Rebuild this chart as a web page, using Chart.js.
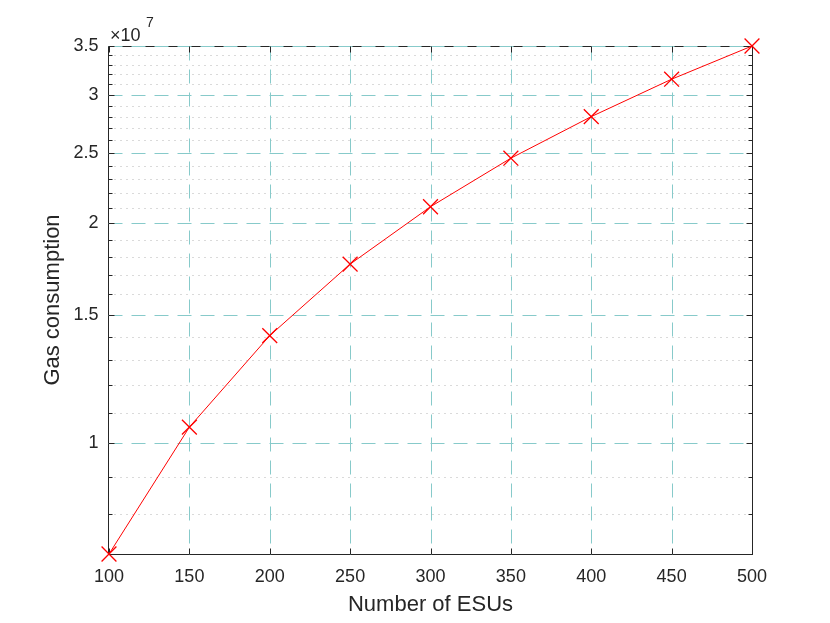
<!DOCTYPE html>
<html>
<head>
<meta charset="utf-8">
<title>Gas consumption</title>
<script src="https://cdn.jsdelivr.net/npm/chart.js@4.4.0/dist/chart.umd.min.js"></script>
<style>
	html, body { margin: 0; padding: 0; background: #fff; }
</style>
</head>
<body>
<canvas id="grafico" width="830" height="623"></canvas>
<script>
	// datos
	var esus = [100, 150, 200, 250, 300, 350, 400, 450, 500];
	var gas = [7.05e6, 1.052e7, 1.404e7, 1.759e7, 2.108e7, 2.457e7, 2.801e7, 3.152e7, 3.5e7];
	var xTicks = [100, 150, 200, 250, 300, 350, 400, 450, 500];
	var yTicks = [1e7, 1.5e7, 2e7, 2.5e7, 3e7, 3.5e7];
	var yMinor = [8e6, 9e6, 1.1e7, 1.2e7, 1.3e7, 1.4e7, 1.6e7, 1.7e7, 1.8e7, 1.9e7,
		2.1e7, 2.2e7, 2.3e7, 2.4e7, 2.6e7, 2.7e7, 2.8e7, 2.9e7, 3.1e7, 3.2e7, 3.3e7, 3.4e7];

	var fuente = '"Liberation Sans", Arial, Helvetica, sans-serif';
	var gris = '#262626';
	var colorGrid = 'rgb(135,202,202)';
	var colorMinor = 'rgb(180,180,180)';

	function px(v) { return Math.round(v) + 0.5; }

	// rejilla estilo matlab + marcas hacia dentro
	var ejesMatlab = {
		id: 'ejesMatlab',
		beforeDatasetsDraw: function(chart) {
			var c = chart.ctx, a = chart.chartArea;
			var sx = chart.scales.x, sy = chart.scales.y;
			var L = px(a.left) - 1, R = px(a.right), T = px(a.top), B = px(a.bottom);
			c.save();
			c.lineWidth = 1;

			// rejilla menor punteada
			c.strokeStyle = colorMinor;
			c.setLineDash([1, 5]);
			yMinor.forEach(function(v) {
				var y = px(sy.getPixelForValue(v));
				c.beginPath(); c.moveTo(L, y); c.lineTo(R, y); c.stroke();
			});

			// caja
			c.setLineDash([]);
			c.strokeStyle = gris;
			c.strokeRect(L, T, R - L, B - T);

			// rejilla mayor discontinua
			c.strokeStyle = colorGrid;
			c.setLineDash([14, 9]);
			yTicks.forEach(function(v) {
				var y = px(sy.getPixelForValue(v));
				c.beginPath(); c.moveTo(L, y); c.lineTo(R, y); c.stroke();
			});
			xTicks.forEach(function(v) {
				if (v == xTicks[0] || v == xTicks[xTicks.length - 1]) return;
				var x = px(sx.getPixelForValue(v));
				c.beginPath(); c.moveTo(x, T); c.lineTo(x, B); c.stroke();
			});

			// marcas
			c.setLineDash([]);
			c.strokeStyle = gris;
			xTicks.forEach(function(v) {
				var x = px(sx.getPixelForValue(v));
				c.beginPath();
				c.moveTo(x, B); c.lineTo(x, B - 6);
				c.moveTo(x, T); c.lineTo(x, T + 6);
				c.stroke();
			});
			yTicks.forEach(function(v) {
				var y = px(sy.getPixelForValue(v));
				c.beginPath();
				c.moveTo(L, y); c.lineTo(L + 6, y);
				c.moveTo(R, y); c.lineTo(R - 6, y);
				c.stroke();
			});
			yMinor.forEach(function(v) {
				var y = px(sy.getPixelForValue(v));
				c.beginPath();
				c.moveTo(L, y); c.lineTo(L + 4, y);
				c.moveTo(R, y); c.lineTo(R - 4, y);
				c.stroke();
			});
			c.restore();
		},
		afterDraw: function(chart) {
			var c = chart.ctx;
			c.save();
			c.fillStyle = gris;
			c.textBaseline = 'alphabetic';
			c.textAlign = 'left';
			c.font = '18px ' + fuente;
			c.fillText('\u00d710', 110, 41);
			c.font = '14px ' + fuente;
			c.fillText('7', 146, 27);
			c.restore();
		}
	};

	var puntos = esus.map(function(x, i) { return {x: x, y: gas[i]}; });

	var grafico = new Chart(document.getElementById('grafico'), {
		type: 'line',
		data: {
			datasets: [{
				data: puntos,
				borderColor: '#ff0000',
				borderWidth: 1,
				pointStyle: 'crossRot',
				pointRadius: 10.5,
				pointBorderColor: '#ff0000',
				pointBorderWidth: 1.3,
				pointBackgroundColor: '#ff0000',
				fill: false,
				tension: 0,
				clip: false
			}]
		},
		options: {
			responsive: false,
			animation: false,
			layout: { padding: { left: 0, top: 46, right: 78, bottom: 0 } },
			plugins: { legend: { display: false }, tooltip: { enabled: false } },
			scales: {
				x: {
					type: 'linear',
					min: esus[0],
					max: esus[esus.length - 1],
					afterBuildTicks: function(s) { s.ticks = xTicks.map(function(v) { return {value: v}; }); },
					afterFit: function(s) { s.height = 69; },
					grid: { display: false, drawTicks: false },
					border: { display: false },
					ticks: { autoSkip: false, maxRotation: 0, padding: 12, color: gris, font: { family: fuente, size: 18 } },
					title: { display: true, text: 'Number of ESUs', color: gris, font: { family: fuente, size: 22 }, padding: { top: 0, bottom: 5 } }
				},
				y: {
					type: 'logarithmic',
					min: gas[0],
					max: gas[gas.length - 1],
					afterBuildTicks: function(s) { s.ticks = yTicks.map(function(v) { return {value: v}; }); },
					afterFit: function(s) { s.width = 109; },
					grid: { display: false, drawTicks: false },
					border: { display: false },
					ticks: {
						autoSkip: false, padding: 10.5, color: gris, font: { family: fuente, size: 18 },
						callback: function(v) { return String(Math.round(v / 1e6) / 10); }
					},
					title: { display: true, text: 'Gas consumption', color: gris, font: { family: fuente, size: 22 }, padding: { top: 40, bottom: 0 } }
				}
			}
		},
		plugins: [ejesMatlab]
	});
</script>
</body>
</html>
